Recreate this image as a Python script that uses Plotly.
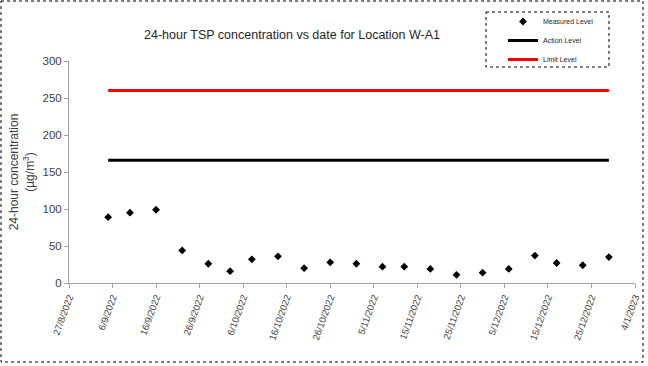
import plotly.graph_objects as go

# ---- data ----
dates = ["2022-09-05", "2022-09-10", "2022-09-16", "2022-09-22", "2022-09-28",
         "2022-10-03", "2022-10-08", "2022-10-14", "2022-10-20", "2022-10-26",
         "2022-11-01", "2022-11-07", "2022-11-12", "2022-11-18", "2022-11-24",
         "2022-11-30", "2022-12-06", "2022-12-12", "2022-12-17", "2022-12-23",
         "2022-12-29"]
measured = [89, 95, 99, 44, 26, 16, 32, 36, 20, 28, 26, 22, 22, 19, 11,
            14, 19, 37, 27, 24, 35]
action_level = 166
limit_level = 260

tick_dates = ["2022-08-27", "2022-09-06", "2022-09-16", "2022-09-26", "2022-10-06",
              "2022-10-16", "2022-10-26", "2022-11-05", "2022-11-15", "2022-11-25",
              "2022-12-05", "2022-12-15", "2022-12-25", "2023-01-04"]
tick_labels = ["27/8/2022", "6/9/2022", "16/9/2022", "26/9/2022", "6/10/2022",
               "16/10/2022", "26/10/2022", "5/11/2022", "15/11/2022", "25/11/2022",
               "5/12/2022", "15/12/2022", "25/12/2022", "4/1/2023"]

# ---- layout geometry ----
W, H = 648, 366
ML, MR, MT, MB = 69, 13, 61, 83
PW, PH = W - ML - MR, H - MT - MB

def px_x(p):
    return (p - ML) / PW

def px_y(p):
    return (H - MB - p) / PH

font_family = "Liberation Sans, Arial, sans-serif"
text_col = "#404040"

fig = go.Figure()
fig.add_trace(go.Scatter(
    x=dates, y=measured, mode="markers", name="Measured Level",
    marker=dict(symbol="diamond", size=6, color="black"),
))
fig.add_trace(go.Scatter(
    x=[dates[0], dates[-1]], y=[action_level, action_level], mode="lines",
    name="Action Level", line=dict(color="black", width=3),
))
fig.add_trace(go.Scatter(
    x=[dates[0], dates[-1]], y=[limit_level, limit_level], mode="lines",
    name="Limit Level", line=dict(color="#ff0000", width=3),
))

fig.update_layout(
    width=W, height=H,
    margin=dict(l=ML, r=MR, t=MT, b=MB, autoexpand=False),
    paper_bgcolor="white", plot_bgcolor="white",
    font=dict(family=font_family, color=text_col),
    title=dict(
        text="24-hour TSP concentration vs date for Location W-A1",
        x=px_x(292), xref="paper", xanchor="center",
        y=1 - 35 / H, yanchor="middle",
        font=dict(size=12.5, color="#262626"),
    ),
    showlegend=True,
    legend=dict(
        x=px_x(503), y=px_y(7), xanchor="left", yanchor="top",
        font=dict(size=7, color="#262626"),
        bgcolor="rgba(0,0,0,0)", borderwidth=0,
        itemwidth=30, tracegroupgap=6,
    ),
    xaxis=dict(
        type="date", range=["2022-08-27", "2023-01-04"],
        tickvals=tick_dates, ticktext=tick_labels, tickangle=-70,
        tickfont=dict(size=9.5, color=text_col),
        showgrid=False, zeroline=False,
        showline=True, linecolor="#a0a0a0", linewidth=1,
        ticks="outside", ticklen=4, tickcolor="#a0a0a0",
    ),
    yaxis=dict(
        range=[0, 300], dtick=50,
        tickfont=dict(size=11.5, color=text_col),
        title=dict(text="24-hour concentration<br>(µg/m<sup>3</sup>)",
                   font=dict(size=12, color=text_col), standoff=5),
        showgrid=False, zeroline=False,
        showline=True, linecolor="#a0a0a0", linewidth=1,
        ticks="outside", ticklen=4, tickcolor="#a0a0a0",
    ),
    shapes=[
        # outer dotted frame
        dict(type="rect", xref="paper", yref="paper",
             x0=px_x(1), x1=px_x(643), y0=px_y(1), y1=px_y(362),
             line=dict(color="black", width=1, dash="dot")),
        # legend dotted frame
        dict(type="rect", xref="paper", yref="paper",
             x0=px_x(486), x1=px_x(609), y0=px_y(12), y1=px_y(67),
             line=dict(color="black", width=1, dash="dot")),
    ],
)

fig.write_html("out.html",
               config={"displayModeBar": False},
               post_script="document.body.style.margin='0';document.body.style.overflow='hidden';")
